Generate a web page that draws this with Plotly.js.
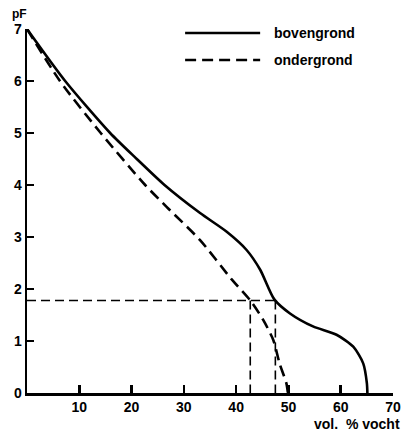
<!DOCTYPE html>
<html>
<head>
<meta charset="utf-8">
<script src="https://cdn.plot.ly/plotly-3.0.1.min.js"></script>
<style>html,body{margin:0;padding:0;background:#fff;}#chart{width:414px;height:433px;}</style>
</head>
<body>
<div id="chart"></div>
<script>
// bovengrond (topsoil) — vol.% vocht vs pF
const bovenVocht = [0, 7.3, 15.9, 21.0, 26.3, 33.1, 38.2, 42.0, 44.6, 47.3, 50.3, 54.7, 59.2, 62.4, 64.3, 65.0, 65.1];
const bovenPF    = [7.0, 6.0, 5.0, 4.5, 4.0, 3.46, 3.10, 2.75, 2.37, 1.80, 1.53, 1.28, 1.12, 0.89, 0.57, 0.19, 0.0];
// ondergrond (subsoil)
const onderVocht = [0, 6.3, 14.1, 22.6, 26.7, 33.1, 39.1, 42.7, 45.2, 47.1, 48.3, 49.6, 49.9];
const onderPF    = [7.0, 6.0, 5.0, 4.0, 3.58, 2.94, 2.19, 1.78, 1.40, 1.02, 0.57, 0.19, 0.0];
// reference level and intersections
const refPF = 1.78;
const refVocht = [42.7, 47.5];
// ticks
const xTicks = [10, 20, 30, 40, 50, 60, 70];
const yTicks = [0, 1, 2, 3, 4, 5, 6, 7];
const legendNames = ['bovengrond', 'ondergrond'];

const fam = 'Liberation Sans, Arial, sans-serif';
const bold = (size) => ({family: fam, size: size, color: '#000', weight: 'bold'});

const traces = [
  {x: bovenVocht, y: bovenPF, mode: 'lines', line: {color: '#000', width: 2.6, shape: 'spline', smoothing: 0.7}, name: legendNames[0], showlegend: false},
  {x: onderVocht, y: onderPF, mode: 'lines', line: {color: '#000', width: 2.6, dash: '11px,6px', shape: 'spline', smoothing: 0.7}, name: legendNames[1], showlegend: false},
  {x: [0, Math.max(...refVocht)], y: [refPF, refPF], mode: 'lines', line: {color: '#000', width: 1.6, dash: '9px,5px'}, showlegend: false, hoverinfo: 'skip'},
  {x: [refVocht[0], refVocht[0]], y: [refPF, 0], mode: 'lines', line: {color: '#000', width: 1.6, dash: '9px,5px'}, showlegend: false, hoverinfo: 'skip'},
  {x: [refVocht[1], refVocht[1]], y: [refPF, 0], mode: 'lines', line: {color: '#000', width: 1.6, dash: '9px,5px'}, showlegend: false, hoverinfo: 'skip'}
];

const layout = {
  width: 414, height: 433,
  margin: {l: 27, r: 21, t: 29, b: 40},
  paper_bgcolor: '#fff', plot_bgcolor: '#fff',
  showlegend: false,
  font: {family: fam, size: 14, color: '#000'},
  xaxis: {
    range: [0, 70], tickvals: xTicks, ticktext: xTicks.map(String),
    ticks: 'inside', ticklen: 8, tickwidth: 2.5, tickcolor: '#000',
    showline: true, linewidth: 2.5, linecolor: '#000', showgrid: false, zeroline: false,
    tickfont: bold(14)
  },
  yaxis: {
    range: [0, 7], tickvals: yTicks, ticktext: yTicks.map(String),
    ticks: 'inside', ticklen: 7, tickwidth: 2, tickcolor: '#000',
    showline: true, linewidth: 2.5, linecolor: '#000', showgrid: false, zeroline: false,
    tickfont: bold(14)
  },
  shapes: [
    {type: 'line', xref: 'paper', yref: 'paper', x0: 0.432, x1: 0.637, y0: 0.989, y1: 0.989, line: {color: '#000', width: 2.6}},
    {type: 'line', xref: 'paper', yref: 'paper', x0: 0.432, x1: 0.637, y0: 0.915, y1: 0.915, line: {color: '#000', width: 2.6, dash: '11px,6px'}}
  ],
  annotations: [
    {text: legendNames[0], xref: 'paper', yref: 'paper', x: 0.67, y: 0.989, xanchor: 'left', yanchor: 'middle', showarrow: false, font: bold(14)},
    {text: legendNames[1], xref: 'paper', yref: 'paper', x: 0.67, y: 0.915, xanchor: 'left', yanchor: 'middle', showarrow: false, font: bold(14)},
    {text: 'pF', xref: 'paper', yref: 'paper', x: -0.02, y: 1.0, xanchor: 'center', yanchor: 'bottom', yshift: 6, showarrow: false, font: bold(12)},
    {text: 'vol.  % vocht', xref: 'paper', yref: 'paper', x: 1.025, y: 0, xanchor: 'right', yanchor: 'top', yshift: -21, showarrow: false, font: bold(14)}
  ]
};

Plotly.newPlot('chart', traces, layout, {displayModeBar: false, staticPlot: true});
</script>
</body>
</html>
